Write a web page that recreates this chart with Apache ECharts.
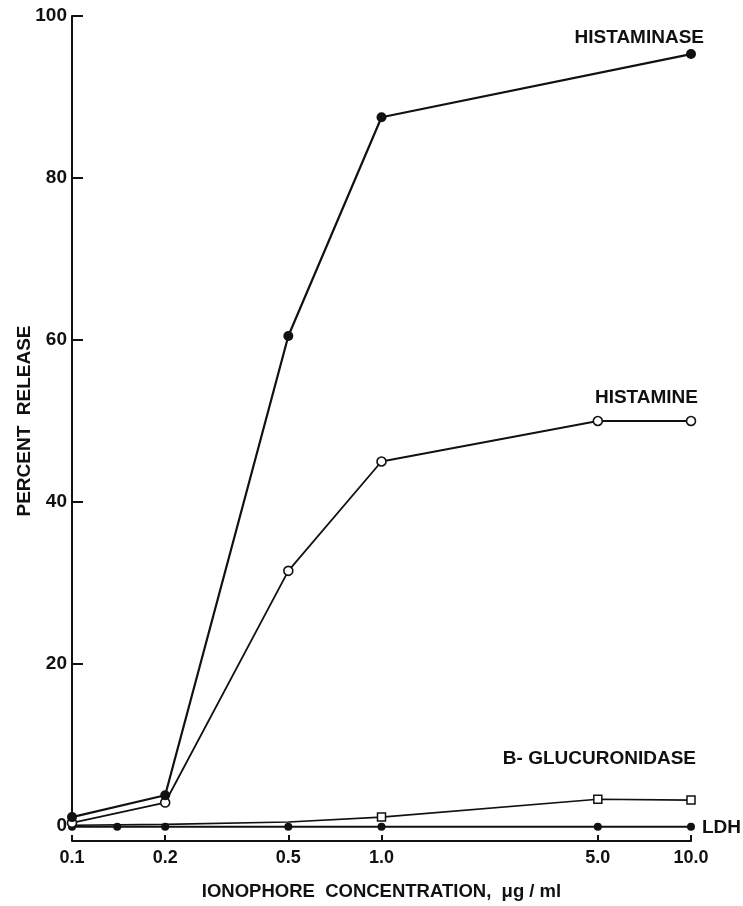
<!DOCTYPE html>
<html>
<head>
<meta charset="utf-8">
<script src="https://cdn.jsdelivr.net/npm/echarts@6/dist/echarts.min.js"></script>
<style>
html,body{margin:0;padding:0;background:#fff;}
#chart{width:743px;height:906px;}
</style>
</head>
<body>
<div id="chart"></div>
<script>
// ---- data ----
var xTickLabels = [0.1, 0.2, 0.5, 1.0, 5.0, 10.0];
var yTickLabels = [0, 20, 40, 60, 80, 100];

var histaminaseX = [0.1, 0.2, 0.5, 1.0, 10.0];
var histaminaseY = [1.1, 3.8, 60.5, 87.5, 95.3];

var histamineX = [0.1, 0.2, 0.5, 1.0, 5.0, 10.0];
var histamineY = [0.4, 2.9, 31.5, 45.0, 50.0, 50.0];

var glucX = [0.1, 0.2, 0.5, 1.0, 5.0, 10.0];
var glucY = [0.1, 0.2, 0.5, 1.1, 3.3, 3.2];
var glucMarked = [false, false, false, true, true, true];

var ldhX = [0.1, 0.14, 0.2, 0.5, 1.0, 5.0, 10.0];
var ldhY = [-0.1, -0.1, -0.1, -0.1, -0.1, -0.1, -0.1];

var seriesNames = ['HISTAMINASE', 'HISTAMINE', 'B- GLUCURONIDASE', 'LDH'];

// ---- build ----
function pairs(xs, ys) { return xs.map(function (x, i) { return [x, ys[i]]; }); }
var FONT = '"Liberation Sans", Arial, Helvetica, sans-serif';
var INK = '#111';

function endLabel(text, pos, offset, align) {
  return {
    show: true, formatter: text, position: pos, offset: offset, align: align,
    color: INK, fontFamily: FONT, fontWeight: 'bold', fontSize: 19
  };
}
function withLastLabel(data, label) {
  var d = data.map(function (p) { return { value: p }; });
  d[d.length - 1].label = label;
  return d;
}

var histaminaseData = withLastLabel(pairs(histaminaseX, histaminaseY),
  endLabel(seriesNames[0], 'top', [13, 3], 'right'));
var histamineData = withLastLabel(pairs(histamineX, histamineY),
  endLabel(seriesNames[1], 'top', [7, -3], 'right'));
var glucData = withLastLabel(pairs(glucX, glucY),
  endLabel(seriesNames[2], 'top', [5, -22], 'right'));
glucData.forEach(function (d, i) { if (!glucMarked[i]) d.symbol = 'none'; });
var ldhData = withLastLabel(pairs(ldhX, ldhY),
  endLabel(seriesNames[3], 'right', [2, 1], 'left'));

var chart = echarts.init(document.getElementById('chart'), null, { renderer: 'canvas' });
chart.setOption({
  backgroundColor: '#fff',
  animation: false,
  grid: { left: 72, right: 52, top: 16, bottom: 80, containLabel: false, outerBoundsMode: 'none' },
  xAxis: [
    {
      type: 'log', logBase: 10, min: 0.1, max: 10, position: 'bottom', offset: 15,
      axisLine: { show: true, onZero: false, lineStyle: { color: INK, width: 2 } },
      axisTick: { show: false }, axisLabel: { show: false },
      splitLine: { show: false }, minorTick: { show: false }
    },
    {
      type: 'value', min: -1, max: 1, position: 'bottom', offset: 15,
      axisLine: { show: false, onZero: false },
      axisTick: { show: true, inside: true, length: 6, lineStyle: { color: INK, width: 2 },
        customValues: xTickLabels.map(function (v) { return Math.log10(v); }) },
      axisLabel: { show: true, margin: 8, color: INK, fontFamily: FONT, fontWeight: 'bold', fontSize: 18,
        customValues: xTickLabels.map(function (v) { return Math.log10(v); }),
        formatter: function (v) { return Math.pow(10, v).toFixed(1); } },
      splitLine: { show: false },
      name: 'IONOPHORE  CONCENTRATION,  \u03bcg / ml', nameLocation: 'middle', nameGap: 41,
      nameMoveOverlap: false,
      nameTextStyle: { color: INK, fontFamily: FONT, fontWeight: 'bold', fontSize: 18.5 }
    }
  ],
  yAxis: {
    type: 'value', min: 0, max: 100, interval: 20,
    axisLine: { show: true, onZero: false, lineStyle: { color: INK, width: 2 } },
    axisTick: { show: true, inside: true, length: 11, lineStyle: { color: INK, width: 2 },
      customValues: yTickLabels },
    axisLabel: { margin: 5, color: INK, fontFamily: FONT, fontWeight: 'bold', fontSize: 19,
      customValues: yTickLabels },
    splitLine: { show: false },
    name: 'PERCENT  RELEASE', nameLocation: 'middle', nameGap: 38, nameMoveOverlap: false,
    nameTextStyle: { color: INK, fontFamily: FONT, fontWeight: 'bold', fontSize: 19 }
  },
  series: [
    {
      name: seriesNames[2], type: 'line', xAxisIndex: 0, data: glucData, clip: false, z: 2,
      symbol: 'rect', symbolSize: 8, showAllSymbol: true,
      lineStyle: { color: INK, width: 1.6 },
      itemStyle: { color: '#fff', borderColor: INK, borderWidth: 1.5 }
    },
    {
      name: seriesNames[3], type: 'line', xAxisIndex: 0, data: ldhData, clip: false, z: 3,
      symbol: 'circle', symbolSize: 8, showAllSymbol: true,
      lineStyle: { color: INK, width: 2 },
      itemStyle: { color: INK, borderColor: INK, borderWidth: 0 }
    },
    {
      name: seriesNames[1], type: 'line', xAxisIndex: 0, data: histamineData, clip: false, z: 4,
      symbol: 'circle', symbolSize: 9, showAllSymbol: true,
      lineStyle: { color: INK, width: 1.8 },
      itemStyle: { color: '#fff', borderColor: INK, borderWidth: 1.6 }
    },
    {
      name: seriesNames[0], type: 'line', xAxisIndex: 0, data: histaminaseData, clip: false, z: 5,
      symbol: 'circle', symbolSize: 10, showAllSymbol: true,
      lineStyle: { color: INK, width: 2.2 },
      itemStyle: { color: INK, borderColor: INK, borderWidth: 0 }
    }
  ]
});
</script>
</body>
</html>
